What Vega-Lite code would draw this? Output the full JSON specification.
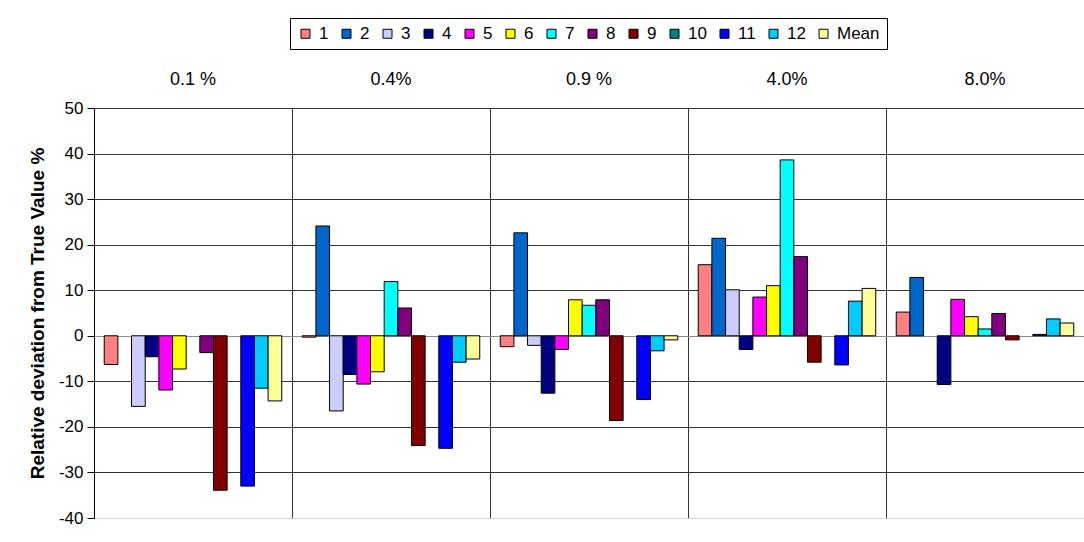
{
  "$schema": "https://vega.github.io/schema/vega-lite/v6.json",
  "width": 990,
  "height": 410,
  "autosize": {"type": "none"},
  "padding": {"left": 94, "top": 108, "right": 0, "bottom": 24},
  "background": "white",
  "config": {
    "font": "Liberation Sans",
    "view": {"stroke": null}
  },
  "data": {
    "values": [
      {"conc": "0.1 %", "series": "1", "value": -6.3},
      {"conc": "0.1 %", "series": "3", "value": -15.5},
      {"conc": "0.1 %", "series": "4", "value": -4.6},
      {"conc": "0.1 %", "series": "5", "value": -11.9},
      {"conc": "0.1 %", "series": "6", "value": -7.3},
      {"conc": "0.1 %", "series": "8", "value": -3.7},
      {"conc": "0.1 %", "series": "9", "value": -33.9},
      {"conc": "0.1 %", "series": "11", "value": -33.0},
      {"conc": "0.1 %", "series": "12", "value": -11.5},
      {"conc": "0.1 %", "series": "Mean", "value": -14.3},

      {"conc": "0.4%", "series": "1", "value": -0.3},
      {"conc": "0.4%", "series": "2", "value": 24.1},
      {"conc": "0.4%", "series": "3", "value": -16.5},
      {"conc": "0.4%", "series": "4", "value": -8.5},
      {"conc": "0.4%", "series": "5", "value": -10.6},
      {"conc": "0.4%", "series": "6", "value": -7.9},
      {"conc": "0.4%", "series": "7", "value": 11.9},
      {"conc": "0.4%", "series": "8", "value": 6.1},
      {"conc": "0.4%", "series": "9", "value": -24.1},
      {"conc": "0.4%", "series": "11", "value": -24.7},
      {"conc": "0.4%", "series": "12", "value": -5.8},
      {"conc": "0.4%", "series": "Mean", "value": -5.1},

      {"conc": "0.9 %", "series": "1", "value": -2.4},
      {"conc": "0.9 %", "series": "2", "value": 22.6},
      {"conc": "0.9 %", "series": "3", "value": -2.1},
      {"conc": "0.9 %", "series": "4", "value": -12.6},
      {"conc": "0.9 %", "series": "5", "value": -3.0},
      {"conc": "0.9 %", "series": "6", "value": 7.9},
      {"conc": "0.9 %", "series": "7", "value": 6.7},
      {"conc": "0.9 %", "series": "8", "value": 7.9},
      {"conc": "0.9 %", "series": "9", "value": -18.6},
      {"conc": "0.9 %", "series": "11", "value": -14.0},
      {"conc": "0.9 %", "series": "12", "value": -3.3},
      {"conc": "0.9 %", "series": "Mean", "value": -0.9},

      {"conc": "4.0%", "series": "1", "value": 15.6},
      {"conc": "4.0%", "series": "2", "value": 21.4},
      {"conc": "4.0%", "series": "3", "value": 10.1},
      {"conc": "4.0%", "series": "4", "value": -3.0},
      {"conc": "4.0%", "series": "5", "value": 8.5},
      {"conc": "4.0%", "series": "6", "value": 11.0},
      {"conc": "4.0%", "series": "7", "value": 38.6},
      {"conc": "4.0%", "series": "8", "value": 17.4},
      {"conc": "4.0%", "series": "9", "value": -5.8},
      {"conc": "4.0%", "series": "11", "value": -6.4},
      {"conc": "4.0%", "series": "12", "value": 7.6},
      {"conc": "4.0%", "series": "Mean", "value": 10.4},

      {"conc": "8.0%", "series": "1", "value": 5.2},
      {"conc": "8.0%", "series": "2", "value": 12.8},
      {"conc": "8.0%", "series": "4", "value": -10.7},
      {"conc": "8.0%", "series": "5", "value": 8.0},
      {"conc": "8.0%", "series": "6", "value": 4.2},
      {"conc": "8.0%", "series": "7", "value": 1.5},
      {"conc": "8.0%", "series": "8", "value": 4.9},
      {"conc": "8.0%", "series": "9", "value": -0.9},
      {"conc": "8.0%", "series": "11", "value": 0.3},
      {"conc": "8.0%", "series": "12", "value": 3.7},
      {"conc": "8.0%", "series": "Mean", "value": 2.8}
    ]
  },
  "mark": {"type": "bar", "stroke": "black", "strokeWidth": 1},
  "encoding": {
    "x": {
      "field": "conc",
      "type": "nominal",
      "scale": {"domain": ["0.1 %", "0.4%", "0.9 %", "4.0%", "8.0%"], "paddingInner": 0, "paddingOuter": 0},
      "axis": {
        "orient": "top",
        "title": null,
        "labelAngle": 0,
        "ticks": false,
        "domain": false,
        "grid": true,
        "bandPosition": 0,
        "gridColor": "#333333",
        "gridOpacity": 1,
        "labelFontSize": 18,
        "labelColor": "black",
        "labelPadding": 20
      }
    },
    "xOffset": {
      "field": "series",
      "type": "nominal",
      "scale": {
        "domain": ["1","2","3","4","5","6","7","8","9","10","11","12","Mean"],
        "paddingInner": 0,
        "paddingOuter": 0.75
      }
    },
    "y": {
      "field": "value",
      "type": "quantitative",
      "scale": {"domain": [-40, 50], "nice": false, "zero": false},
      "axis": {
        "title": "Relative deviation from True Value %",
        "titleFontSize": 19,
        "titleFontWeight": "bold",
        "titleColor": "black",
        "titlePadding": 11,
        "values": [-40, -30, -20, -10, 0, 10, 20, 30, 40, 50],
        "labelExpr": "'' + datum.value",
        "labelFontSize": 17,
        "labelColor": "black",
        "labelPadding": 4,
        "tickSize": 7,
        "tickColor": "black",
        "domainColor": "black",
        "grid": true,
        "gridOpacity": 1,
        "gridColor": {"expr": "datum.value === 0 ? '#8c8c8c' : (datum.value === -40 ? '#d4d4d4' : '#333333')"}
      }
    },
    "color": {
      "field": "series",
      "type": "nominal",
      "scale": {
        "domain": ["1","2","3","4","5","6","7","8","9","10","11","12","Mean"],
        "range": ["#FF8080","#0066CC","#CCCCFF","#000080","#FF00FF","#FFFF00","#00FFFF","#800080","#800000","#008080","#0000FF","#00CCFF","#FFFF99"]
      },
      "legend": {
        "orient": "none",
        "legendX": 196,
        "legendY": -90,
        "direction": "horizontal",
        "title": null,
        "symbolType": "square",
        "symbolSize": 81,
        "symbolStrokeColor": "black",
        "symbolStrokeWidth": 1,
        "labelFontSize": 17,
        "labelColor": "black",
        "labelOffset": 5,
        "columnPadding": 9,
        "padding": 7,
        "strokeColor": "black"
      }
    }
  }
}
